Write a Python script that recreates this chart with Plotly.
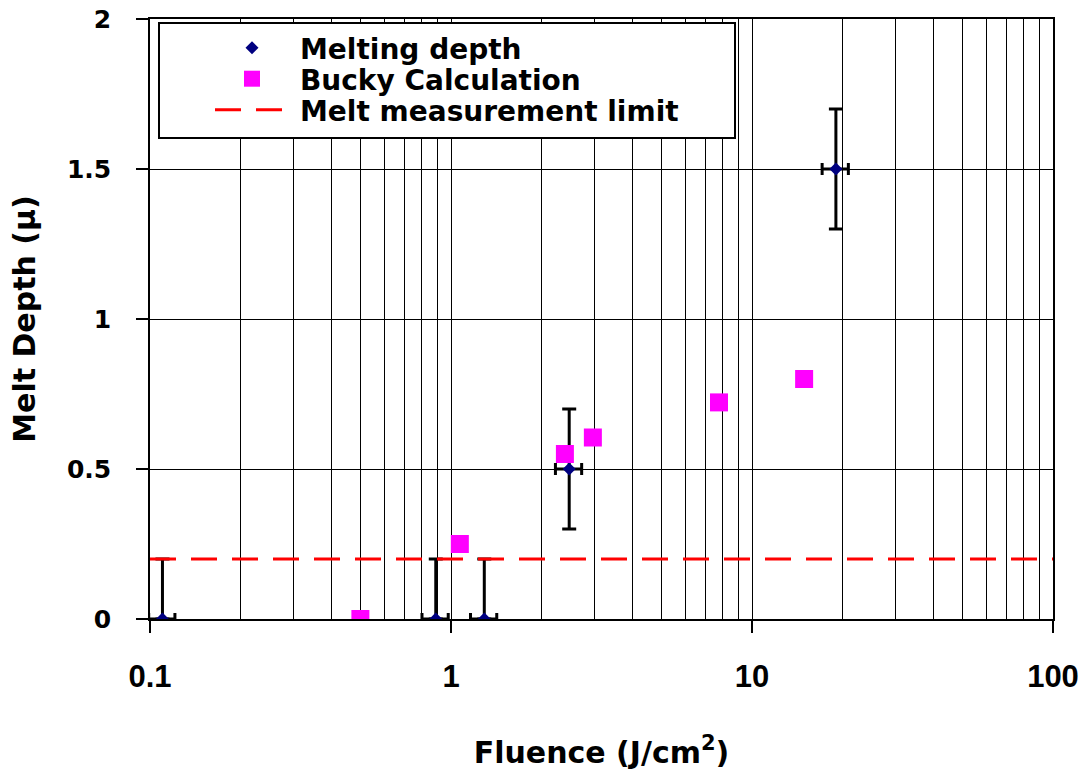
import plotly.graph_objects as go

# Melting depth (measured)
melt_x = [0.11, 0.89, 1.29, 2.47, 19.0]
melt_y = [0.0, 0.0, 0.0, 0.5, 1.5]
melt_err_plus = [0.2, 0.2, 0.2, 0.2, 0.2]
melt_err_minus = [0.0, 0.0, 0.0, 0.2, 0.2]
melt_xerr_pct = 10

# Bucky calculation
bucky_x = [0.5, 1.07, 2.39, 2.96, 7.77, 14.9]
bucky_y = [0.0, 0.25, 0.55, 0.605, 0.722, 0.80]

# Melt measurement limit
limit_x = [0.1, 100]
limit_y = [0.2, 0.2]

x_major = [0.1, 1, 10, 100]
x_major_text = ["0.1", "1", "10", "100"]
x_minor = [m * d for d in [0.1, 1, 10] for m in range(2, 10)]
y_ticks = [0, 0.5, 1, 1.5, 2]
y_tick_text = ["0", "0.5", "1", "1.5", "2"]

FONT = "DejaVu Sans"
L, R, T, B = 150, 1053, 19, 619
PW, PH = R - L, B - T


def px_x(p):
    return (p - L) / PW


def px_y(p):
    return (B - p) / PH


fig = go.Figure()
fig.add_trace(go.Scatter(
    x=melt_x, y=melt_y, mode="markers", name="Melting depth", legend="legend",
    marker=dict(symbol="diamond", size=10, color="#000080"),
    error_y=dict(type="data", array=melt_err_plus, arrayminus=melt_err_minus,
                 color="black", thickness=3, width=7),
    error_x=dict(type="percent", value=melt_xerr_pct, color="black", thickness=3, width=6),
))
fig.add_trace(go.Scatter(
    x=bucky_x, y=bucky_y, mode="markers", name="Bucky Calculation", legend="legend2",
    marker=dict(symbol="square", size=18, color="#FF00FF"),
))
fig.add_trace(go.Scatter(
    x=limit_x, y=limit_y, mode="lines", name="Melt measurement limit", legend="legend3",
    line=dict(color="#FF0000", width=3, dash="26px,15px"),
))

# legend box
fig.add_shape(type="rect", xref="paper", yref="paper",
              x0=px_x(159), x1=px_x(735), y0=px_y(138), y1=px_y(23),
              fillcolor="white", line=dict(color="black", width=2), layer="above")

legend_font = dict(family=FONT, size=28, weight="bold", color="black")


def leg(left_px, row_px, iw):
    return dict(x=px_x(left_px), xanchor="left", y=px_y(row_px), yanchor="middle",
                bgcolor="rgba(0,0,0,0)", borderwidth=0, itemwidth=iw,
                font=legend_font)


fig.update_layout(
    width=1083, height=770,
    margin=dict(l=L, r=1083 - R, t=T, b=770 - B, autoexpand=False),
    paper_bgcolor="white", plot_bgcolor="white",
    font=dict(family=FONT, color="black"),
    showlegend=True,
    legend=leg(300 - 96, 48, 86),
    legend2=leg(300 - 96, 79, 86),
    legend3=leg(300 - 90, 110, 80),
    xaxis=dict(
        type="log", range=[-1, 2], automargin=False,
        tickmode="array", tickvals=x_major, ticktext=x_major_text,
        ticks="outside", ticklen=12, tickwidth=1.5, tickcolor="black",
        ticklabelstandoff=17,
        tickfont=dict(family="Liberation Sans", size=31, weight="bold"),
        showgrid=True, gridcolor="black", gridwidth=1.2,
        minor=dict(tickvals=x_minor, showgrid=True, gridcolor="black", gridwidth=1.2, ticks=""),
        showline=True, linecolor="black", linewidth=1.5, mirror=True,
        zeroline=False,
        title=dict(text="Fluence (J/cm<sup>2</sup>)", standoff=49,
                   font=dict(family=FONT, size=30, weight="bold")),
    ),
    yaxis=dict(
        range=[0, 2], automargin=False,
        tickmode="array", tickvals=y_ticks, ticktext=y_tick_text,
        ticks="outside", ticklen=12, tickwidth=1.5, tickcolor="black",
        ticklabelstandoff=20,
        tickfont=dict(family=FONT, size=25, weight="bold"),
        showgrid=True, gridcolor="black", gridwidth=1.2,
        showline=True, linecolor="black", linewidth=1.5, mirror=True,
        zeroline=False,
        title=dict(text="Melt Depth (μ)", standoff=22,
                   font=dict(family=FONT, size=30, weight="bold")),
    ),
)

fig.write_html("out.html")
